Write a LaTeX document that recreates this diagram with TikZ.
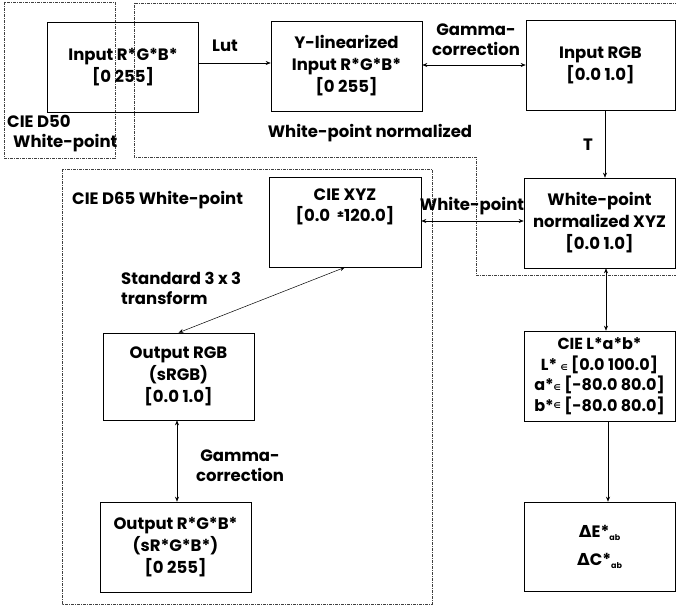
\documentclass[tikz,border=0pt]{standalone}
\usepackage{fontspec}
\setmainfont{Poppins}
\newfontfamily\symfont{DejaVu Sans}
\usetikzlibrary{arrows.meta}
\begin{document}
\begin{tikzpicture}[x=1pt,y=-1pt,
  box/.style={draw, line width=0.6pt, minimum width=151pt, minimum height=90pt, inner sep=0pt, align=center, font=\fontsize{16.5}{22}\selectfont\bfseries},
  lbl/.style={align=center, inner sep=0pt, font=\fontsize{16.5}{20}\selectfont\bfseries},
  zone/.style={draw=black!75, line width=0.6pt, dash pattern=on 3pt off 1pt on 1pt off 1pt},
  arr/.style={-{Stealth[length=5pt,width=4pt]}, line width=0.5pt},
  darr/.style={{Stealth[length=5pt,width=4pt]}-{Stealth[length=5pt,width=4pt]}, line width=0.5pt}]
\useasboundingbox (0,0) rectangle (676,609);
% zones
\draw[zone] (4,2) rectangle (115,158);
\draw[zone] (690,3) -- (134,3) -- (134,157) -- (476,157) -- (476,275) -- (690,275);
\draw[zone] (62,169) rectangle (432,604);
% boxes
\node[box] (inrgbs) at (123,67) {Input R*G*B*\\{}[0 255]};
\node[box] (ylin) at (346.5,66) {Y-linearized\\Input R*G*B*\\{}[0 255]};
\node[box, minimum width=149pt] (inrgb) at (600.5,65) {Input RGB\\{}[0.0 1.0]};
\node[box] (wpxyz) at (599.5,223) {White-point\\normalized XYZ\\{}[0.0 1.0]};
\node[box, minimum width=152pt] (ciexyz) at (345,222) {};
\node[lbl, font=\fontsize{16.5}{21}\selectfont\bfseries] (ciexyzt) at (345,207) {CIE XYZ\\{}[0.0\ \ \raisebox{3pt}{\fontsize{11}{11}\selectfont ±}120.0]};
\node[box, minimum height=87pt] (outrgb) at (178.5,376.5) {Output RGB\\(sRGB)\\{}[0.0 1.0]};
\node[box] (outrgbs) at (175.5,547) {Output R*G*B*\\(sR*G*B*)\\{}[0 255]};
\node[box, font=\fontsize{16}{20.5}\selectfont\bfseries] (lab) at (599.5,376) {CIE L*a*b*\\L* {\symfont\fontsize{8}{8}\selectfont ∈} [0.0 100.0]\\a*{\symfont\fontsize{8}{8}\selectfont ∈} [-80.0 80.0]\\b*\raisebox{3pt}{\symfont\fontsize{8}{8}\selectfont ∈} [-80.0 80.0]};
\node[box, minimum height=89pt, font=\fontsize{16.5}{28}\selectfont\bfseries] (de) at (599.5,546.5) {{\symfont Δ}E*\raisebox{-3pt}{\fontsize{8}{8}\selectfont ab}\\{\symfont Δ}C*\raisebox{-3pt}{\fontsize{8}{8}\selectfont ab}};
% labels
\node[lbl] (lut) at (225,46) {Lut};
\node[lbl] (gc1) at (476,40) {Gamma-\\correction};
\node[lbl] (t) at (588,145) {T};
\node[lbl] (wp) at (472,206) {White-point};
\node[lbl, anchor=west, align=left] (std) at (121,288) {Standard 3 x 3\\transform};
\node[lbl] (gc2) at (240,466) {Gamma-\\correction};
\node[lbl, anchor=west, align=left] (d50) at (7,134) {CIE D50\\\hspace*{6pt}White-point};
\node[lbl, anchor=west] (d65) at (72,200) {CIE D65 White-point};
\node[lbl] (wpn) at (370,133) {White-point normalized};
% connectors
\draw[arr] ([yshift=4pt]inrgbs.east) -- ([yshift=4pt]inrgbs.east -| ylin.west);
\draw[darr] ([yshift=1pt]ylin.east) -- ([yshift=1pt]ylin.east -| inrgb.west);
\coordinate (tA) at ([xshift=4.5pt]inrgb.south);
\draw[arr] (tA) -- (tA |- wpxyz.north);
\draw[darr] ([yshift=1pt]ciexyz.east) -- ([yshift=1pt]ciexyz.east -| wpxyz.west);
\draw[darr] (ciexyz.south) -- (outrgb.north);
\coordinate (gB) at ([xshift=-1.5pt]outrgb.south);
\draw[darr] (gB) -- (gB |- outrgbs.north);
\coordinate (lC) at ([xshift=6.5pt]wpxyz.south);
\draw[darr] (lC) -- (lC |- lab.north);
\coordinate (lD) at ([xshift=8.5pt]lab.south);
\draw[arr] (lD) -- (lD |- de.north);
\end{tikzpicture}
\end{document}
